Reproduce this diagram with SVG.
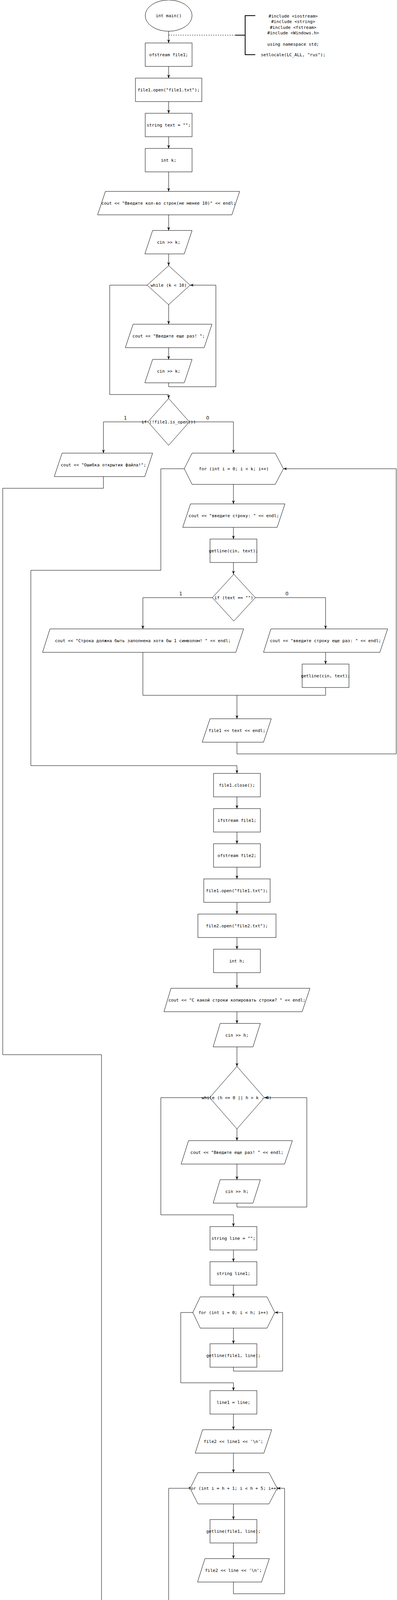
<svg xmlns="http://www.w3.org/2000/svg" width="1017" height="5451" viewBox="0 0 1017 5451">
<style>
.s{fill:#fff;stroke:#000;stroke-width:1}
.t{font-family:"DejaVu Sans Mono","Liberation Mono",monospace;font-size:11px;fill:#000;text-anchor:middle;dominant-baseline:central}
.l{font-family:"DejaVu Sans","Liberation Sans",sans-serif;font-size:12px;fill:#000;text-anchor:middle;dominant-baseline:central}
.c{fill:none;stroke:#000;stroke-width:1}
.a{marker-end:url(#arr)}
.d{fill:none;stroke:#000;stroke-width:1;stroke-dasharray:3 3}
.b{fill:none;stroke:#000;stroke-width:2}
</style>
<defs>
<marker id="arr" viewBox="0 0 10 10" refX="10" refY="5" markerWidth="9" markerHeight="9" markerUnits="userSpaceOnUse" orient="auto">
<path d="M0,1 L10,5 L0,9 L3,5 z" fill="#000"/>
</marker>
</defs>
<rect width="1017" height="5451" fill="#fff"/>

<g id="connectors">
<path class="c a" d="M432,80 V110"/>
<path class="c a" d="M432,170 V200"/>
<path class="c a" d="M432,260 V290"/>
<path class="c a" d="M432,350 V380"/>
<path class="c a" d="M432,440 V490"/>
<path class="c a" d="M432,550 V590"/>
<path class="c a" d="M432,650 V680"/>
<path class="c a" d="M432,780 V830"/>
<path class="c a" d="M432,890 V920"/>
<path class="c a" d="M432,980 V990 H553 V730 H487"/>
<path class="c a" d="M377,730 H281 V1010 H432 V1020"/>
<path class="c a" d="M379,1080 H265 V1160"/>
<path class="c a" d="M485,1080 H598 V1160"/>
<path class="c a" d="M598,1240 V1290"/>
<path class="c a" d="M598,1350 V1380"/>
<path class="c a" d="M598,1440 V1470"/>
<path class="c a" d="M544,1530 H366 V1610"/>
<path class="c a" d="M654,1530 H834 V1610"/>
<path class="c a" d="M834,1670 V1700"/>
<path class="c" d="M366,1670 V1780 H834 V1760"/>
<path class="c a" d="M607,1780 V1840"/>
<path class="c a" d="M607,1900 V1930 H1015 V1200 H726"/>
<path class="c a" d="M472,1200 H412 V1460 H79 V1960 H607 V1980"/>
<path class="c" d="M265,1220 V1250 H7 V2700 H260 V4140 H432"/>
<path class="c a" d="M607,2040 V2070"/>
<path class="c a" d="M607,2130 V2160"/>
<path class="c a" d="M607,2220 V2250"/>
<path class="c a" d="M607,2310 V2340"/>
<path class="c a" d="M607,2400 V2430"/>
<path class="c a" d="M607,2490 V2530"/>
<path class="c a" d="M607,2590 V2620"/>
<path class="c a" d="M607,2680 V2730"/>
<path class="c a" d="M607,2890 V2920"/>
<path class="c a" d="M607,2980 V3020"/>
<path class="c a" d="M607,3080 V3090 H786 V2810 H677"/>
<path class="c a" d="M537,2810 H412 V3110 H598 V3140"/>
<path class="c a" d="M598,3200 V3230"/>
<path class="c a" d="M598,3290 V3320"/>
<path class="c a" d="M598,3400 V3440"/>
<path class="c a" d="M598,3500 V3510 H724 V3360 H704"/>
<path class="c a" d="M494,3360 H463 V3540 H598 V3560"/>
<path class="c a" d="M598,3620 V3660"/>
<path class="c a" d="M598,3720 V3770"/>
<path class="c a" d="M598,3850 V3890"/>
<path class="c a" d="M598,3950 V3990"/>
<path class="c a" d="M598,4050 V4080 H729 V3810 H710"/>
<path class="c a" d="M487,3810 H432 V4180"/>
<path class="c a" d="M432,4240 V4290"/>
<path class="c a" d="M432,4350 V4390"/>
<path class="c a" d="M432,4450 V4490"/>
<path class="c a" d="M432,4550 V4580"/>
<path class="c a" d="M432,4640 V4680"/>
<path class="c a" d="M432,4740 V4790"/>
<path class="c a" d="M432,4930 V4980"/>
<path class="c a" d="M372,5045 H296 V5110"/>
<path class="c" d="M491,5045 H574 V5190"/>
<path class="c" d="M296,5170 V5190 H574"/>
<path class="c a" d="M422,5190 V5230"/>
<path class="c a" d="M422,5230 H645 V4860 H506"/>
<path class="c a" d="M358,4860 H210 V5270 H432 V5290"/>
<path class="c a" d="M432,5350 V5390"/>
<text class="l" x="321" y="1070">1</text>
<text class="l" x="532" y="1070">0</text>
<text class="l" x="463" y="1520">1</text>
<text class="l" x="735" y="1520">0</text>
<text class="l" x="331" y="5030">1</text>
<text class="l" x="527" y="5030">0</text>
</g>

<g id="note-top">
<path class="d" d="M432,90 H603"/>
<path class="b" d="M603,90 H628"/>
<path class="b" d="M654,40 H628 V140 H654"/>
<text class="t" x="751" y="41">#include &lt;iostream&gt;</text>
<text class="t" x="751" y="55.5">#include &lt;string&gt;</text>
<text class="t" x="751" y="70">#include &lt;fstream&gt;</text>
<text class="t" x="751" y="84.5">#include &lt;Windows.h&gt;</text>
<text class="t" x="751" y="113">using namespace std;</text>
<text class="t" x="751" y="140">setlocale(LC_ALL, "rus");</text>
</g>

<g id="n-start"><ellipse class="s" cx="432" cy="40" rx="60" ry="40"/><text class="t" x="432" y="40">int main()</text></g>
<g id="n-ofs1"><rect class="s" x="372" y="110" width="120" height="60"/><text class="t" x="432" y="140">ofstream file1;</text></g>
<g id="n-open1"><rect class="s" x="347" y="200" width="170" height="60"/><text class="t" x="432" y="230">file1.open("file1.txt");</text></g>
<g id="n-text"><rect class="s" x="372" y="290" width="120" height="60"/><text class="t" x="432" y="320">string text = "";</text></g>
<g id="n-intk"><rect class="s" x="372" y="380" width="120" height="60"/><text class="t" x="432" y="410">int k;</text></g>
<g id="n-out1"><polygon class="s" points="270,490 614,490 594,550 250,550"/><text class="t" x="432" y="520">cout &lt;&lt; "Введите кол-во строк(не менее 10)" &lt;&lt; endl;</text></g>
<g id="n-cink1"><polygon class="s" points="391,590 492,590 472,650 371,650"/><text class="t" x="432" y="620">cin &gt;&gt; k;</text></g>
<g id="n-whilek"><polygon class="s" points="432,680 487,730 432,780 377,730"/><text class="t" x="432" y="730">while (k &lt; 10)</text></g>
<g id="n-again1"><polygon class="s" points="341,830 543,830 523,890 321,890"/><text class="t" x="432" y="860">cout &lt;&lt; "Введите еще раз! ";</text></g>
<g id="n-cink2"><polygon class="s" points="391,920 492,920 472,980 371,980"/><text class="t" x="432" y="950">cin &gt;&gt; k;</text></g>
<g id="n-ifopen"><polygon class="s" points="432,1020 485,1080 432,1140 379,1080"/><text class="t" x="432" y="1080">if (!file1.is_open())</text></g>
<g id="n-err"><polygon class="s" points="159,1160 391,1160 371,1220 139,1220"/><text class="t" x="265" y="1190">cout &lt;&lt; "Ошибка открытия файла!";</text></g>
<g id="n-fork"><polygon class="s" points="492,1160 705,1160 726,1200 705,1240 492,1240 472,1200"/><text class="t" x="599" y="1200">for (int i = 0; i &lt; k; i++)</text></g>
<g id="n-enter"><polygon class="s" points="488,1290 730,1290 710,1350 468,1350"/><text class="t" x="599" y="1320">cout &lt;&lt; "введите строку: " &lt;&lt; endl;</text></g>
<g id="n-gl1"><rect class="s" x="538" y="1380" width="120" height="60"/><text class="t" x="598" y="1410">getline(cin, text);</text></g>
<g id="n-iftext"><polygon class="s" points="599,1470 654,1530 599,1590 544,1530"/><text class="t" x="599" y="1530">if (text == "")</text></g>
<g id="n-empty"><polygon class="s" points="128,1610 624,1610 604,1670 109,1670"/><text class="t" x="366" y="1640">cout &lt;&lt; "Строка должна быть заполнена хотя бы 1 символом! " &lt;&lt; endl;</text></g>
<g id="n-again2"><polygon class="s" points="694,1610 993,1610 973,1670 675,1670"/><text class="t" x="834" y="1640">cout &lt;&lt; "введите строку еще раз: " &lt;&lt; endl;</text></g>
<g id="n-gl2"><rect class="s" x="774" y="1700" width="120" height="60"/><text class="t" x="834" y="1730">getline(cin, text);</text></g>
<g id="n-write1"><polygon class="s" points="538,1840 695,1840 675,1900 518,1900"/><text class="t" x="607" y="1870">file1 &lt;&lt; text &lt;&lt; endl;</text></g>
<g id="n-close1"><rect class="s" x="547" y="1980" width="120" height="60"/><text class="t" x="607" y="2010">file1.close();</text></g>
<g id="n-ifs1"><rect class="s" x="547" y="2070" width="120" height="60"/><text class="t" x="607" y="2100">ifstream file1;</text></g>
<g id="n-ofs2"><rect class="s" x="547" y="2160" width="120" height="60"/><text class="t" x="607" y="2190">ofstream file2;</text></g>
<g id="n-open1b"><rect class="s" x="522" y="2250" width="170" height="60"/><text class="t" x="607" y="2280">file1.open("file1.txt");</text></g>
<g id="n-open2"><rect class="s" x="507" y="2340" width="200" height="60"/><text class="t" x="607" y="2370">file2.open("file2.txt");</text></g>
<g id="n-inth"><rect class="s" x="547" y="2430" width="120" height="60"/><text class="t" x="607" y="2460">int h;</text></g>
<g id="n-askh"><polygon class="s" points="438,2530 794,2530 774,2590 420,2590"/><text class="t" x="607" y="2560">cout &lt;&lt; "С какой строки копировать строки? " &lt;&lt; endl;</text></g>
<g id="n-cinh1"><polygon class="s" points="564,2620 667,2620 648,2680 546,2680"/><text class="t" x="607" y="2650">cin &gt;&gt; h;</text></g>
<g id="n-whileh"><polygon class="s" points="607,2730 677,2810 607,2890 537,2810"/><text class="t" x="606" y="2810">while (h &lt;= 0 || h &gt; k - 4)</text></g>
<g id="n-again3"><polygon class="s" points="483,2920 749,2920 729,2980 464,2980"/><text class="t" x="607" y="2950">cout &lt;&lt; "Введите еще раз! " &lt;&lt; endl;</text></g>
<g id="n-cinh2"><polygon class="s" points="564,3020 667,3020 648,3080 546,3080"/><text class="t" x="607" y="3050">cin &gt;&gt; h;</text></g>
<g id="n-line"><rect class="s" x="538" y="3140" width="120" height="60"/><text class="t" x="598" y="3170">string line = "";</text></g>
<g id="n-line1"><rect class="s" x="538" y="3230" width="120" height="60"/><text class="t" x="598" y="3260">string line1;</text></g>
<g id="n-forh"><polygon class="s" points="513,3320 684,3320 704,3360 684,3400 513,3400 494,3360"/><text class="t" x="598" y="3360">for (int i = 0; i &lt; h; i++)</text></g>
<g id="n-gl3"><rect class="s" x="538" y="3440" width="120" height="60"/><text class="t" x="598" y="3470">getline(file1, line);</text></g>
<g id="n-assign"><rect class="s" x="538" y="3560" width="120" height="60"/><text class="t" x="598" y="3590">line1 = line;</text></g>
<g id="n-write2"><polygon class="s" points="519,3660 696,3660 676,3720 500,3720"/><text class="t" x="598" y="3690">file2 &lt;&lt; line1 &lt;&lt; '\n';</text></g>
<g id="n-for5"><polygon class="s" points="507,3770 689,3770 710,3810 689,3850 507,3850 487,3810"/><text class="t" x="598" y="3810">for (int i = h + 1; i &lt; h + 5; i++)</text></g>
<g id="n-gl4"><rect class="s" x="538" y="3890" width="120" height="60"/><text class="t" x="598" y="3920">getline(file1, line);</text></g>
<g id="n-write3"><polygon class="s" points="525,3990 690,3990 670,4050 506,4050"/><text class="t" x="598" y="4020">file2 &lt;&lt; line &lt;&lt; '\n';</text></g>
<g id="n-close1b"><rect class="s" x="372" y="4180" width="120" height="60"/><text class="t" x="432" y="4210">file1.close();</text></g>
<g id="n-glasn"><rect class="s" x="326" y="4290" width="212" height="60"/><text class="t" x="432" y="4320">har glasn[] = "AaEeIiOoUuYy";</text></g>
<g id="n-ifs2"><rect class="s" x="372" y="4390" width="120" height="60"/><text class="t" x="432" y="4420">ifstream file2;</text></g>
<g id="n-forglasn"><rect class="s" x="225" y="4490" width="414" height="60"/><text class="t" x="432" y="4520">ifstream for_glasn("file2.txt", ios::in | ios::binary);</text></g>
<g id="n-ch"><rect class="s" x="372" y="4580" width="120" height="60"/><text class="t" x="432" y="4610">char ch;</text></g>
<g id="n-count"><rect class="s" x="372" y="4680" width="120" height="60"/><text class="t" x="432" y="4710">int count = 0;</text></g>
<g id="n-whileget"><polygon class="s" points="432,4790 506,4860 432,4930 358,4860"/><text class="t" x="432" y="4860">while (for_glasn.get(ch))</text></g>
<g id="n-ifstrchr"><polygon class="s" points="432,4980 491,5045 432,5110 372,5045"/><text class="t" x="432" y="5045">if (strchr(glasn, ch))</text></g>
<g id="n-inc"><polygon class="s" points="255,5110 356,5110 336,5170 235,5170"/><text class="t" x="296" y="5140">count++;</text></g>
<g id="n-result"><polygon class="s" points="174,5290 710,5290 690,5350 154,5350"/><text class="t" x="432" y="5316">cout &lt;&lt; "Кол-во гласных(английских) букв во втором файле: " &lt;&lt; count &lt;&lt; endl;</text></g>
<g id="n-close2"><rect class="s" x="372" y="5390" width="120" height="60"/><text class="t" x="432" y="5420">file2.close();</text></g>

<g id="note-bottom">
<path class="d" d="M432,5370 H725"/>
<path class="b" d="M725,5370 H750"/>
<path class="b" d="M776,5320 H750 V5420 H776"/>
<text class="t" x="796" y="5370">return 0;</text>
</g>
</svg>
